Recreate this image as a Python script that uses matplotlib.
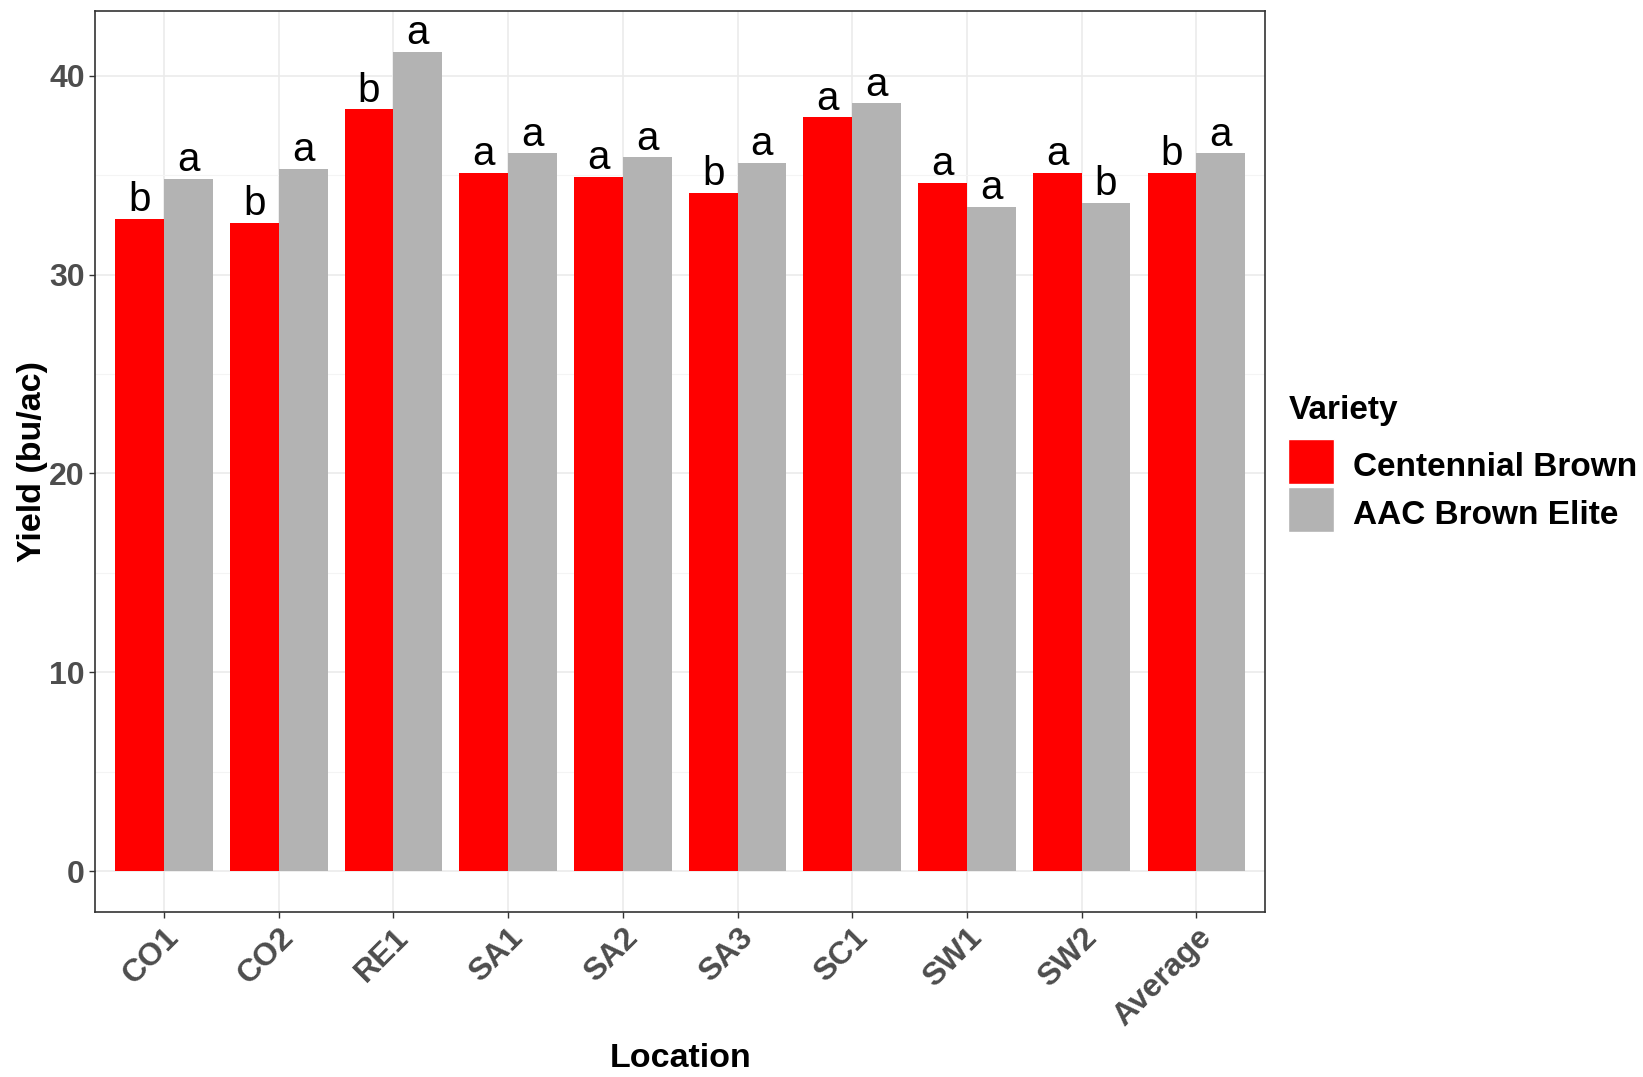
import matplotlib.pyplot as plt
from matplotlib.patches import Rectangle
import numpy as np

plt.rcParams['font.family'] = ['Liberation Sans', 'DejaVu Sans']

locations = ["CO1", "CO2", "RE1", "SA1", "SA2", "SA3", "SC1", "SW1", "SW2", "Average"]
centennial = [32.8, 32.6, 38.3, 35.1, 34.9, 34.1, 37.9, 34.6, 35.1, 35.1]
elite = [34.8, 35.3, 41.2, 36.1, 35.9, 35.6, 38.6, 33.4, 33.6, 36.1]
letters_cent = ["b", "b", "b", "a", "a", "b", "a", "a", "a", "b"]
letters_elite = ["a", "a", "a", "a", "a", "a", "a", "a", "b", "a"]
varieties = ["Centennial Brown", "AAC Brown Elite"]
colors = ["#FF0000", "#B3B3B3"]

W, H = 1643, 1077
fig = plt.figure(figsize=(W / 100, H / 100), dpi=100)
ax = fig.add_axes([0.058, 0.153, 0.712, 0.837])

x = np.arange(1, len(locations) + 1)
w = 0.425
ax.bar(x - w / 2, centennial, w, color=colors[0], zorder=2)
ax.bar(x + w / 2, elite, w, color=colors[1], zorder=2)

for xi, v, t in zip(x - w / 2, centennial, letters_cent):
    ax.annotate(t, (xi, v), xytext=(0, 5.5), textcoords="offset points",
                ha="center", va="baseline", fontsize=29, color="black")
for xi, v, t in zip(x + w / 2, elite, letters_elite):
    ax.annotate(t, (xi, v), xytext=(0, 5.5), textcoords="offset points",
                ha="center", va="baseline", fontsize=29, color="black")

ax.set_xlim(0.4, 10.6)
ax.set_ylim(-2.06, 43.26)
ax.set_yticks([0, 10, 20, 30, 40])
ax.set_yticks([5, 15, 25, 35], minor=True)
ax.set_xticks(x)
ax.set_xticklabels(locations, rotation=45, ha="right", va="top", rotation_mode="anchor")

ax.grid(True, which="major", color="#EBEBEB", lw=1.2, zorder=0)
ax.grid(True, which="minor", axis="y", color="#F4F4F4", lw=0.8, zorder=0)
ax.set_axisbelow(True)
ax.tick_params(axis="both", which="major", labelsize=23, colors="#333333",
               labelcolor="#4D4D4D", length=4, width=1)
ax.tick_params(axis="both", which="minor", length=0)
for lab in ax.get_xticklabels() + ax.get_yticklabels():
    lab.set_fontweight("bold")
for s in ax.spines.values():
    s.set_color("#333333")
    s.set_linewidth(1.2)

ax.set_xlabel("Location", fontsize=24.5, fontweight="bold", labelpad=8)
ax.set_ylabel("Yield (bu/ac)", fontsize=24.5, fontweight="bold", labelpad=1)

# legend drawn by hand (pixel positions in figure space)
def fx(px):
    return px / W

def fy(py):
    return 1 - py / H

fig.text(fx(1289), fy(419), "Variety", fontsize=24, fontweight="bold",
         ha="left", va="baseline")
key_top = 439
for i, (c, lab) in enumerate(zip(colors, varieties)):
    top = key_top + i * 48
    fig.add_artist(Rectangle((fx(1288), fy(top + 45)), fx(46), 45 / H,
                             transform=fig.transFigure, facecolor=c,
                             edgecolor="white", lw=1))
    fig.text(fx(1353), fy(top + 37), lab, fontsize=24, fontweight="bold",
             ha="left", va="baseline")

plt.savefig("out.png")
